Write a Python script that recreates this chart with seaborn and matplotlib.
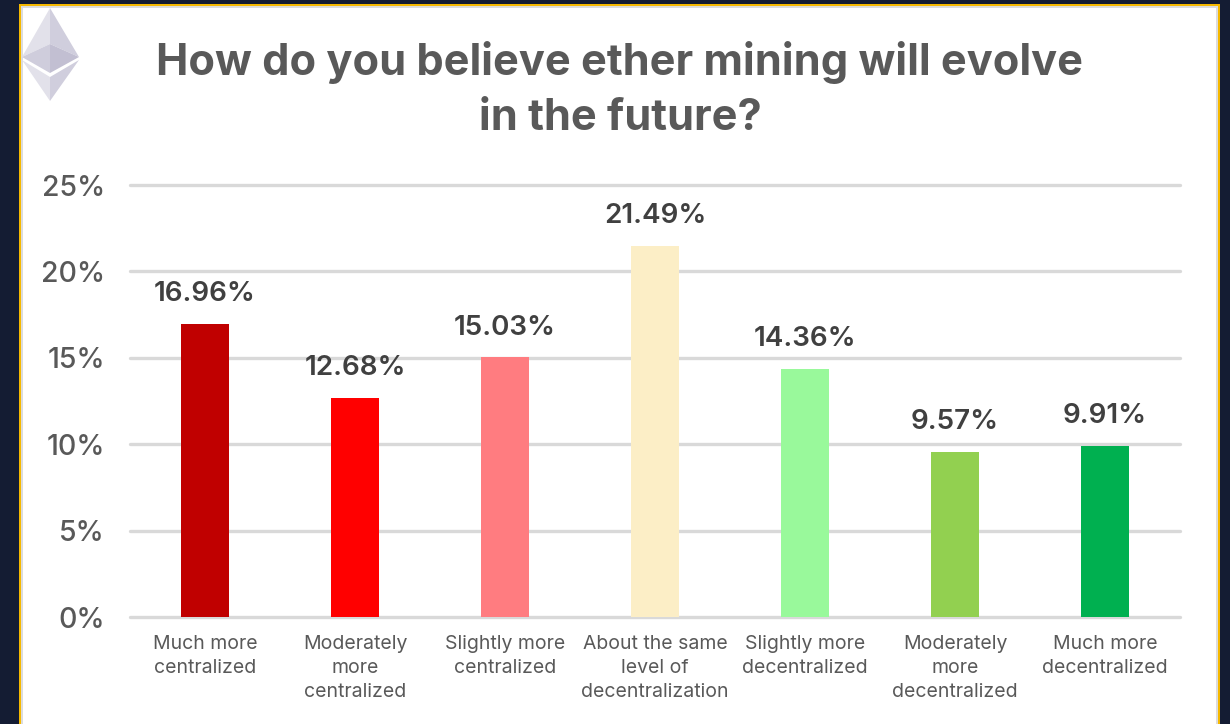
import matplotlib
matplotlib.use("Agg")
import matplotlib.pyplot as plt
import pandas as pd
import seaborn as sns
from matplotlib.patches import Polygon, Rectangle

# ---- data ----
categories = [
    "Much more\ncentralized",
    "Moderately\nmore\ncentralized",
    "Slightly more\ncentralized",
    "About the same\nlevel of\ndecentralization",
    "Slightly more\ndecentralized",
    "Moderately\nmore\ndecentralized",
    "Much more\ndecentralized",
]
values = [16.96, 12.68, 15.03, 21.49, 14.36, 9.57, 9.91]
bar_colors = ["#C00000", "#FF0000", "#FF7C80", "#FCEEC6", "#99F99B", "#92D050", "#00B050"]
y_ticks = [0, 5, 10, 15, 20, 25]

title = "How do you believe ether mining will evolve\nin the future?"

W, H = 1230, 724

sns.set_theme(style="white")
plt.rcParams["font.family"] = ["Inter", "DejaVu Sans"]

df = pd.DataFrame({"answer": categories, "share": values})

fig = plt.figure(figsize=(W / 100, H / 100), dpi=100, facecolor="#141C33")


def px_rect(x0, y0, x1, y1, color):
    fig.patches.append(Rectangle((x0 / W, 1 - y1 / H), (x1 - x0) / W, (y1 - y0) / H,
                                 transform=fig.transFigure, facecolor=color,
                                 edgecolor="none", zorder=-2))


def px_poly(points, color):
    pts = [(x / W, 1 - y / H) for x, y in points]
    fig.patches.append(Polygon(pts, closed=True, transform=fig.transFigure,
                               facecolor=color, edgecolor="none", zorder=-1))


# ---- card frame ----
px_rect(19, 4, 1220, 724, "#F5B800")
px_rect(21, 6, 1218, 724, "#DCDCDC")
px_rect(23, 8, 1216, 724, "#FFFFFF")

# ---- ether logo ----
px_poly([(50, 8), (22, 57), (50, 44)], "#E2E1EA")
px_poly([(50, 8), (79, 57), (50, 44)], "#D0CEDD")
px_poly([(22, 57), (50, 44), (50, 73)], "#CFCDDC")
px_poly([(79, 57), (50, 44), (50, 73)], "#C2BFD2")
px_poly([(22, 60), (50, 77), (50, 101)], "#E2E1EA")
px_poly([(79, 60), (50, 77), (50, 101)], "#D0CEDD")

# ---- bars ----
ax = fig.add_axes([130 / W, 1 - 617 / H, 1050 / W, 432 / H])
ax.patch.set_alpha(0)
sns.barplot(data=df, x="answer", y="share", hue="answer", palette=bar_colors,
            width=0.315, legend=False, saturation=1, linewidth=0, ax=ax, zorder=3)

ax.set_xlim(-0.5, 6.5)
ax.set_ylim(0, 25)
ax.set_yticks(y_ticks)
ax.set_yticklabels([f"{t}%" for t in y_ticks], fontsize=20.5, fontweight="medium", color="#595959")
ax.tick_params(axis="y", length=0, pad=18)
ax.tick_params(axis="x", length=0, pad=13)
for lab in ax.get_xticklabels():
    lab.set_fontsize(14)
    lab.set_color("#595959")
    lab.set_linespacing(1.41)
    lab.set_verticalalignment("top")
ax.set_xlabel("")
ax.set_ylabel("")
ax.grid(axis="y", color="#D9D9D9", linewidth=2.4, zorder=0, clip_on=False)
ax.set_axisbelow(True)
sns.despine(ax=ax, left=True, bottom=True, top=True, right=True)

# value labels
for i, v in enumerate(values):
    ax.annotate(f"{v:.2f}%", (i, v), xytext=(0, 12), textcoords="offset points",
                ha="center", va="bottom", fontsize=20, fontweight="semibold", color="#404040")

fig.text(620 / W, 1 - 90 / H, title, ha="center", va="center", fontsize=31.2,
         fontweight="bold", color="#595959", linespacing=1.46)

fig.savefig("out.png", dpi=100, facecolor=fig.get_facecolor())
